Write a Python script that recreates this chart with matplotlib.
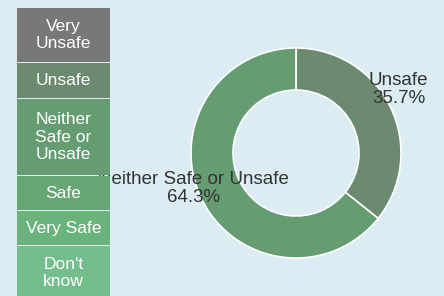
import matplotlib
matplotlib.use("Agg")
import matplotlib.pyplot as plt
from matplotlib.patches import Rectangle

plt.rcParams["font.family"] = ["Liberation Sans", "DejaVu Sans"]

BG = "#dbedf3"

# legend categories (all answer options) and their colours
categories = ["Very\nUnsafe", "Unsafe", "Neither\nSafe or\nUnsafe", "Safe", "Very Safe", "Don't\nknow"]
cat_colors = ["#787878", "#6b8a70", "#659c72", "#66a673", "#6ab37c", "#73be8c"]
box_heights = [54, 35, 76, 34, 34, 54]

# donut slices (only answers that were given)
slice_labels = ["Unsafe", "Neither Safe or Unsafe"]
slice_pct = [35.7, 64.3]
slice_colors = ["#6b8a70", "#659c72"]

W, H = 444, 296
fig = plt.figure(figsize=(W / 100, H / 100), dpi=100)
fig.patch.set_facecolor(BG)

ax = fig.add_axes([191 / W, (H - 258) / H, 210 / W, 210 / H])
ax.set_facecolor(BG)
wedges, texts = ax.pie(
    slice_pct,
    colors=slice_colors,
    startangle=90,
    counterclock=False,
    radius=1.0,
    labels=[f"{l}\n{p}%" for l, p in zip(slice_labels, slice_pct)],
    labeldistance=1.085,
    wedgeprops=dict(width=0.4, edgecolor="white", linewidth=1.2),
    textprops=dict(fontsize=13.5, color="#333333", linespacing=1.08),
)
for t in texts:
    t.set_horizontalalignment("center")
    t.set_verticalalignment("bottom")
    t.set_clip_on(False)
    # nudge labels down a little
    x, y = t.get_position()
    t.set_position((x, y - 0.035))
ax.set_xlim(-1, 1)
ax.set_ylim(-1, 1)
ax.set_aspect("equal")
ax.axis("off")

# legend column down the left side
x0, x1 = 17, 110
top = 8
for label, col, h in zip(categories, cat_colors, box_heights):
    fig.add_artist(Rectangle((x0 / W, 1 - (top + h) / H), (x1 - x0) / W, h / H,
                             transform=fig.transFigure, facecolor=col,
                             edgecolor="none", zorder=5))
    fig.text((x0 + x1) / 2 / W, 1 - (top + h / 2) / H, label, color="white",
             fontsize=12.5, ha="center", va="center", linespacing=1.2, zorder=6)
    top += h + 1

fig.savefig("out.png", dpi=100, facecolor=BG)
